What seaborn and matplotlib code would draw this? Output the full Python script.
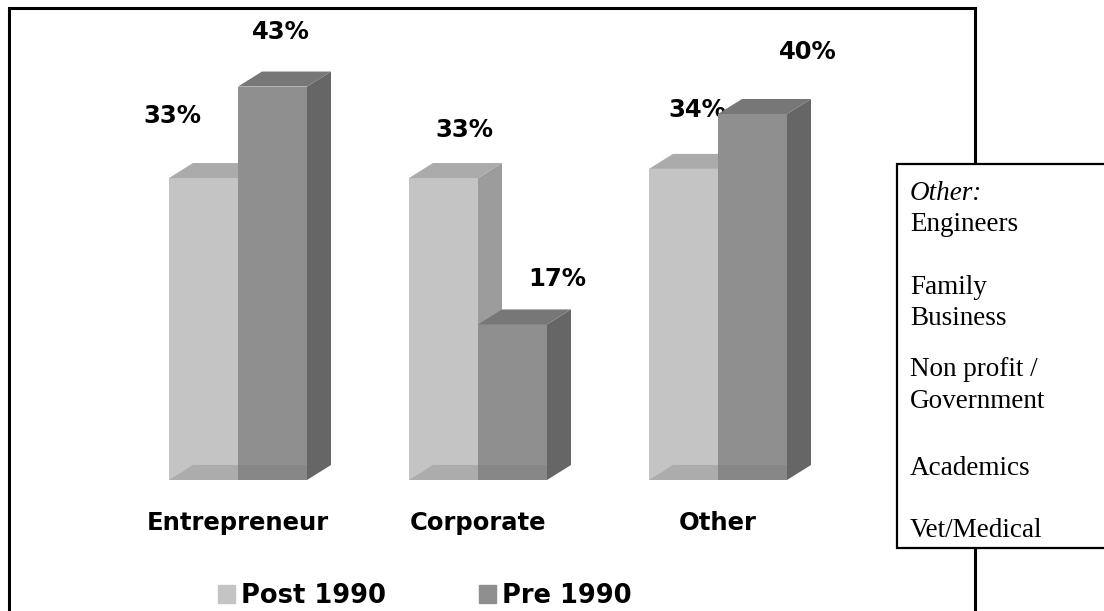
import pandas as pd
import matplotlib.pyplot as plt
import seaborn as sns
from matplotlib.patches import Polygon, Rectangle, Patch

categories = ['Entrepreneur', 'Corporate', 'Other']
periods = ['Post 1990', 'Pre 1990']
post_1990 = [33, 33, 34]
pre_1990 = [43, 17, 40]
other_lines = ['Engineers', 'Family', 'Business', 'Non profit /', 'Government',
               'Academics', 'Vet/Medical']

df = pd.DataFrame({
    'Category': categories * 2,
    'Period': [periods[0]] * 3 + [periods[1]] * 3,
    'Value': post_1990 + pre_1990,
})

sns.set_theme(style='white')
plt.rcParams['font.family'] = ['DejaVu Sans']
plt.rcParams['text.color'] = 'black'

W, H = 1104, 611
fig = plt.figure(figsize=(W / 100, H / 100), dpi=100)
ax = fig.add_axes([118 / W, (H - 480) / H, 720 / W, 457.5 / H])

front = ['#c4c4c4', '#8f8f8f']
top = ['#ababab', '#777777']
side = ['#9c9c9c', '#666666']
floor = ['#acacac', '#878787']

sns.barplot(data=df, x='Category', y='Value', hue='Period', order=categories,
            hue_order=periods, palette=front, width=0.575, saturation=1,
            legend=False, ax=ax, zorder=2, edgecolor='none', linewidth=0)
ax.set_xlim(-0.5, 2.5)
ax.set_ylim(0, 50)

# fake 3D depth
dx, dy = 0.1, 1.64
label_off = [[(-31, 62), (21, 48), (14, 59)], [(8, 55), (45, 45), (55, 62)]]
for k, cont in enumerate(ax.containers):
    z = 2 + 2 * k
    for i, p in enumerate(cont.patches):
        p.set_zorder(z)
        x0, w, h = p.get_x(), p.get_width(), p.get_height()
        x1 = x0 + w
        ax.add_patch(Polygon([(x0, h), (x1, h), (x1 + dx, h + dy), (x0 + dx, h + dy)],
                             closed=True, fc=top[k], ec='none', zorder=z))
        ax.add_patch(Polygon([(x1, 0), (x1 + dx, dy), (x1 + dx, h + dy), (x1, h)],
                             closed=True, fc=side[k], ec='none', zorder=z - 0.5))
        if k == 0:
            fl = [(x0, 0), (x0 + dx, dy), (x1, dy), (x1, 0)]
        else:
            fl = [(x0, 0), (x0, dy), (x1, dy), (x1, 0)]
        ax.add_patch(Polygon(fl, closed=True, fc=floor[k], ec='none', zorder=z + 0.1))
        ox, oy = label_off[k][i]
        ax.annotate(f'{int(h)}%', xy=(x0 + w / 2, h), xytext=(ox * 0.72, oy * 0.72),
                    textcoords='offset points', ha='center', va='center',
                    fontsize=17.5, fontweight='bold', color='black')

ax.set_xlabel('')
ax.set_ylabel('')
ax.set_yticks([])
ax.tick_params(axis='x', length=0, pad=22)
for t in ax.get_xticklabels():
    t.set_fontsize(17.5)
    t.set_fontweight('bold')
    t.set_color('black')
sns.despine(ax=ax, left=True, bottom=True)

# outer frame
fig.add_artist(Rectangle((9 / W, -0.05), 966 / W, 1.05 - 8 / H, transform=fig.transFigure,
                         fill=False, ec='black', lw=2.2, zorder=5))
# side box
fig.add_artist(Rectangle((897 / W, (H - 548) / H), 0.2, 384 / H, transform=fig.transFigure,
                         fc='white', ec='black', lw=1.6, zorder=6))
serif = ['Liberation Serif', 'DejaVu Serif']
fig.text(910 / W, (H - 200) / H, 'Other:', family=serif, style='italic', fontsize=19.5,
         va='baseline', ha='left', color='black', zorder=7)
baselines = [231, 294, 325, 376, 408, 475, 537]
for line, b in zip(other_lines, baselines):
    fig.text(910 / W, (H - b) / H, line, family=serif, fontsize=19.5,
             va='baseline', ha='left', color='black', zorder=7)

handles = [Patch(color=front[0]), Patch(color=front[1])]
leg = fig.legend(handles, periods, loc='center', bbox_to_anchor=(425 / W, (H - 596) / H),
                 ncol=2, frameon=False, handlelength=0.65, handleheight=0.65,
                 handletextpad=0.25, columnspacing=3.6,
                 prop={'weight': 'bold', 'size': 18.5})
for t in leg.get_texts():
    t.set_color('black')

fig.savefig('out.png', dpi=100, facecolor='white')
